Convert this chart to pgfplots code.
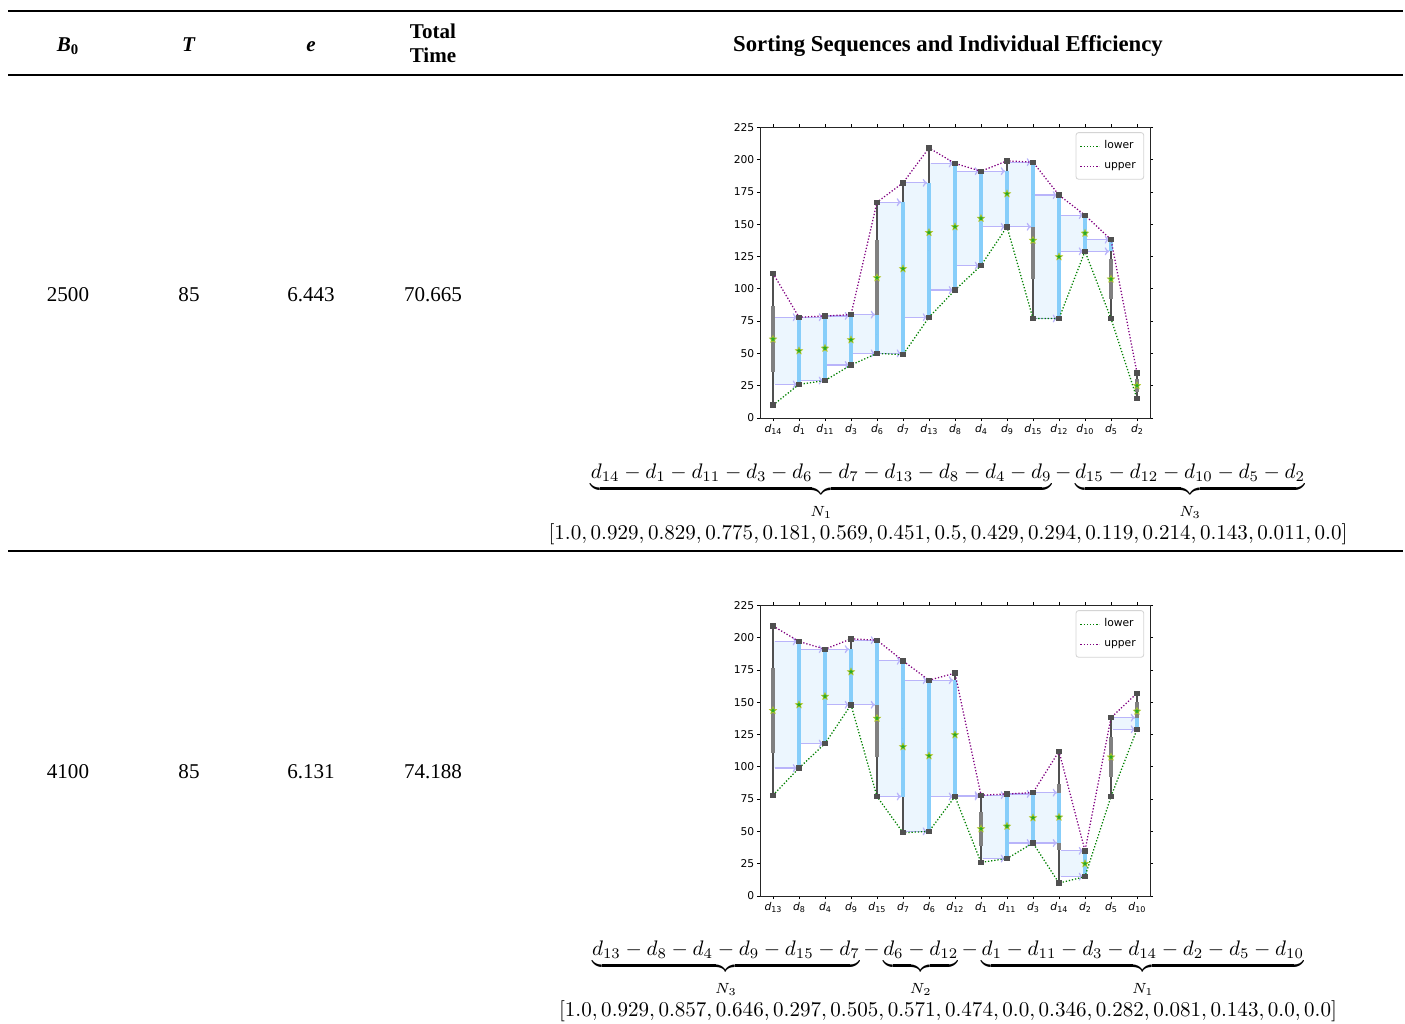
\documentclass[border=0pt]{standalone}
\usepackage{fontspec}
\setmainfont{Liberation Serif}
\newfontfamily\dejavu{DejaVu Sans}
\usepackage{pgfplots}
\pgfplotsset{compat=1.18}
\usepackage{pgfplotstable}
\usetikzlibrary{arrows.meta}

\definecolor{bandc}{RGB}{236,246,254}
\definecolor{skyb}{RGB}{135,206,250}
\definecolor{dgrey}{RGB}{80,80,80}
\definecolor{mgrey}{RGB}{128,128,128}
\definecolor{lgreen}{RGB}{0,128,0}
\definecolor{lpurple}{RGB}{128,0,128}
\definecolor{arrc}{RGB}{185,180,250}
\definecolor{starf}{RGB}{40,170,40}
\definecolor{stare}{RGB}{190,200,40}

\pgfdeclareplotmark{fstar}{%
 \pgfpathmoveto{\pgfpointpolar{90}{\pgfplotmarksize}}%
 \pgfpathlineto{\pgfpointpolar{126}{0.45*\pgfplotmarksize}}%
 \pgfpathlineto{\pgfpointpolar{162}{\pgfplotmarksize}}%
 \pgfpathlineto{\pgfpointpolar{198}{0.45*\pgfplotmarksize}}%
 \pgfpathlineto{\pgfpointpolar{234}{\pgfplotmarksize}}%
 \pgfpathlineto{\pgfpointpolar{270}{0.45*\pgfplotmarksize}}%
 \pgfpathlineto{\pgfpointpolar{306}{\pgfplotmarksize}}%
 \pgfpathlineto{\pgfpointpolar{342}{0.45*\pgfplotmarksize}}%
 \pgfpathlineto{\pgfpointpolar{18}{\pgfplotmarksize}}%
 \pgfpathlineto{\pgfpointpolar{54}{0.45*\pgfplotmarksize}}%
 \pgfpathclose\pgfusepathqfillstroke}

\newcommand\dd[1]{{\itshape d}\raisebox{-0.45ex}{\fontsize{3.8}{4}\selectfont #1}}
\newcommand\band[4]{%
 \addplot[forget plot, fill=bandc, draw=none] coordinates {(#1,#3) (#2,#3) (#2,#4) (#1,#4)};
 \addplot[forget plot, arrc, line width=0.6pt, -{To[length=2.2pt,width=3.8pt]}, shorten >=0.8pt] coordinates {(#1.06,#4) (#2,#4)};
 \addplot[forget plot, arrc, line width=0.6pt, -{To[length=2.2pt,width=3.8pt]}, shorten >=0.8pt] coordinates {(#1.06,#3) (#2,#3)};
}

\pgfplotsset{seqaxis/.style={
 scale only axis, width=185.25pt, height=138.1pt, anchor=south west,
 xmin=-0.5, xmax=14.5, ymin=0, ymax=225,
 xtick={0,...,14}, ytick={0,25,...,225},
 tick align=outside, major tick length=1.5pt,
 tick style={black, line width=0.35pt},
 axis line style={line width=0.45pt, black!85},
 ticklabel style={font=\dejavu\fontsize{5.1}{6}\selectfont},
 /pgf/number format/assume math mode=true,
 yticklabel style={inner sep=1pt},
 xticklabel style={inner sep=1pt, text height=4pt, text depth=1.2pt},
 legend style={at={(0.985,0.983)}, anchor=north east, draw={rgb,255:red,212;green,212;blue,212},
   rounded corners=1.2pt, font=\dejavu\fontsize{5.1}{6}\selectfont, inner sep=1.8pt, row sep=0.8pt},
 legend cell align=left,
 legend image code/.code={\draw[##1, line width=0.6pt] (0pt,0pt) -- (9pt,0pt);},
 errb/.style={forget plot, only marks, mark size=0pt, mark options={draw=none, fill=none},
   error bars/.cd, y dir=both, y explicit, error mark=none},
}}

% x lo hi mid h q bmid bh
\pgfplotstableread{
x lo hi mid h q bmid bh
0 10 112 61 51 25.5 nan nan
1 26 78 52 26 13 52 26
2 29 79 54 25 12.5 53.5 24.5
3 41 80 60.5 19.5 9.75 60 19
4 50 167 108.5 58.5 29.25 65 15
5 49 182 115.5 66.5 33.25 108.5 58.5
6 78 209 143.5 65.5 32.75 130 52
7 99 197 148 49 24.5 148 49
8 118 191 154.5 36.5 18.25 154.5 36.5
9 148 199 173.5 25.5 12.75 169.5 21.5
10 77 198 137.5 60.5 30.25 173 25
11 77 172.5 124.75 47.75 23.875 124.75 47.75
12 129 157 143 14 7 143 14
13 77 138 107.5 30.5 15.25 133.5 4.5
14 15 35 25 10 5 nan nan
}\tabA

\pgfplotstableread{
x lo hi mid h q bmid bh
0 78 209 143.5 65.5 32.75 nan nan
1 99 197 148 49 24.5 148 49
2 118 191 154.5 36.5 18.25 154.5 36.5
3 148 199 173.5 25.5 12.75 169.5 21.5
4 77 198 137.5 60.5 30.25 173 25
5 49 182 115.5 66.5 33.25 129.5 52.5
6 50 167 108.5 58.5 29.25 108.5 58.5
7 77 172.5 124.75 47.75 23.875 122 45
8 26 78 52 26 13 77.5 0.5
9 29 79 54 25 12.5 53.5 24.5
10 41 80 60.5 19.5 9.75 60 19
11 10 112 61 51 25.5 60.5 19.5
12 15 35 25 10 5 25 10
13 77 138 107.5 30.5 15.25 nan nan
14 129 157 143 14 7 133.5 4.5
}\tabB

\newcommand\drawseq[1]{%
 \addplot[errb, error bar style={line width=0.75pt, draw=dgrey}] table[x=x, y=mid, y error=h] {#1};
 \addplot[errb, error bar style={line width=1.7pt, draw=mgrey}] table[x=x, y=mid, y error=q] {#1};
 \addplot[errb, error bar style={line width=1.5pt, draw=skyb}] table[x=x, y=bmid, y error=bh] {#1};
 \addplot[lgreen, line width=0.6pt, dash pattern=on 0.6pt off 0.9pt] table[x=x, y=lo] {#1};
 \addlegendentry{lower}
 \addplot[lpurple, line width=0.6pt, dash pattern=on 0.6pt off 0.9pt] table[x=x, y=hi] {#1};
 \addlegendentry{upper}
 \addplot[forget plot, only marks, mark=square*, mark size=1.05pt, dgrey] table[x=x, y=lo] {#1};
 \addplot[forget plot, only marks, mark=square*, mark size=1.05pt, dgrey] table[x=x, y=hi] {#1};
 \addplot[forget plot, only marks, mark=fstar, mark size=1.8pt, mark options={fill=starf, draw=stare, line width=0.25pt}] table[x=x, y=mid] {#1};
}

\begin{document}
\begin{tikzpicture}
\begin{scope}[x=0.475pt,y=-0.475pt]
\path[use as bounding box] (0,0) rectangle (1405,1023);
\draw[line width=0.8pt] (8,11) -- (1403,11);
\draw[line width=0.5pt] (8,75) -- (1403,75);
\draw[line width=0.5pt] (8,551) -- (1403,551);
% header
\node[anchor=base, inner sep=0pt] at (68,51) {\textbf{\textit{B}\textsubscript{\upshape 0}}};
\node[anchor=base, inner sep=0pt] at (189,51) {\textbf{\textit{T}}};
\node[anchor=base, inner sep=0pt] at (311,51) {\textbf{\textit{e}}};
\node[anchor=base, inner sep=0pt] at (433,38) {\textbf{Total}};
\node[anchor=base, inner sep=0pt] at (433,62) {\textbf{Time}};
\node[anchor=base, inner sep=0pt] at (948,51) {\fontsize{10.8}{13}\selectfont\bfseries Sorting Sequences and Individual Efficiency};
% row 1
\node[anchor=base, inner sep=0pt] at (68,301) {2500};
\node[anchor=base, inner sep=0pt] at (189,301) {85};
\node[anchor=base, inner sep=0pt] at (311,301) {6.443};
\node[anchor=base, inner sep=0pt] at (433,301) {70.665};
\node[anchor=base, inner sep=0pt] at (948,478) {$\displaystyle \underbrace{d_{14}-d_{1}-d_{11}-d_{3}-d_{6}-d_{7}-d_{13}-d_{8}-d_{4}-d_{9}}_{\rule{0pt}{8pt}N_1}-\underbrace{d_{15}-d_{12}-d_{10}-d_{5}-d_{2}}_{\rule{0pt}{8pt}N_3}$};
\node[anchor=base, inner sep=0pt] at (948,539) {\fontsize{9.9}{12}\selectfont$[1.0,0.929,0.829,0.775,0.181,0.569,0.451,0.5,0.429,0.294,0.119,0.214,0.143,0.011,0.0]$};
% row 2
\node[anchor=base, inner sep=0pt] at (68,778) {4100};
\node[anchor=base, inner sep=0pt] at (189,778) {85};
\node[anchor=base, inner sep=0pt] at (311,778) {6.131};
\node[anchor=base, inner sep=0pt] at (433,778) {74.188};
\node[anchor=base, inner sep=0pt] at (948,955) {$\displaystyle \underbrace{d_{13}-d_{8}-d_{4}-d_{9}-d_{15}-d_{7}}_{\rule{0pt}{8pt}N_3}-\underbrace{d_{6}-d_{12}}_{\rule{0pt}{8pt}N_2}-\underbrace{d_{1}-d_{11}-d_{3}-d_{14}-d_{2}-d_{5}-d_{10}}_{\rule{0pt}{8pt}N_1}$};
\node[anchor=base, inner sep=0pt] at (948,1016) {\fontsize{9.9}{12}\selectfont$[1.0,0.929,0.857,0.646,0.297,0.505,0.571,0.474,0.0,0.346,0.282,0.081,0.143,0.0,0.0]$};
\end{scope}

\begin{axis}[seqaxis, at={(361pt,-198.55pt)},
 xticklabels={\dd{14},\dd{1},\dd{11},\dd{3},\dd{6},\dd{7},\dd{13},\dd{8},\dd{4},\dd{9},\dd{15},\dd{12},\dd{10},\dd{5},\dd{2}}]
\band{0}{1}{26}{78}
\band{1}{2}{29}{78}
\band{2}{3}{41}{79}
\band{3}{4}{50}{80}
\band{4}{5}{50}{167}
\band{5}{6}{78}{182}
\band{6}{7}{99}{197}
\band{7}{8}{118}{191}
\band{8}{9}{148}{191}
\band{9}{10}{148}{198}
\band{10}{11}{77}{172.5}
\band{11}{12}{129}{157}
\band{12}{13}{129}{138}
\drawseq{\tabA}
\end{axis}

\begin{axis}[seqaxis, at={(361pt,-425.6pt)},
 xticklabels={\dd{13},\dd{8},\dd{4},\dd{9},\dd{15},\dd{7},\dd{6},\dd{12},\dd{1},\dd{11},\dd{3},\dd{14},\dd{2},\dd{5},\dd{10}}]
\band{0}{1}{99}{197}
\band{1}{2}{118}{191}
\band{2}{3}{148}{191}
\band{3}{4}{148}{198}
\band{4}{5}{77}{182}
\band{5}{6}{50}{167}
\band{6}{7}{77}{167}
\band{7}{8}{77}{78}
\band{8}{9}{29}{78}
\band{9}{10}{41}{79}
\band{10}{11}{41}{80}
\band{11}{12}{15}{35}
\band{13}{14}{129}{138}
\drawseq{\tabB}
\end{axis}
\end{tikzpicture}
\end{document}
